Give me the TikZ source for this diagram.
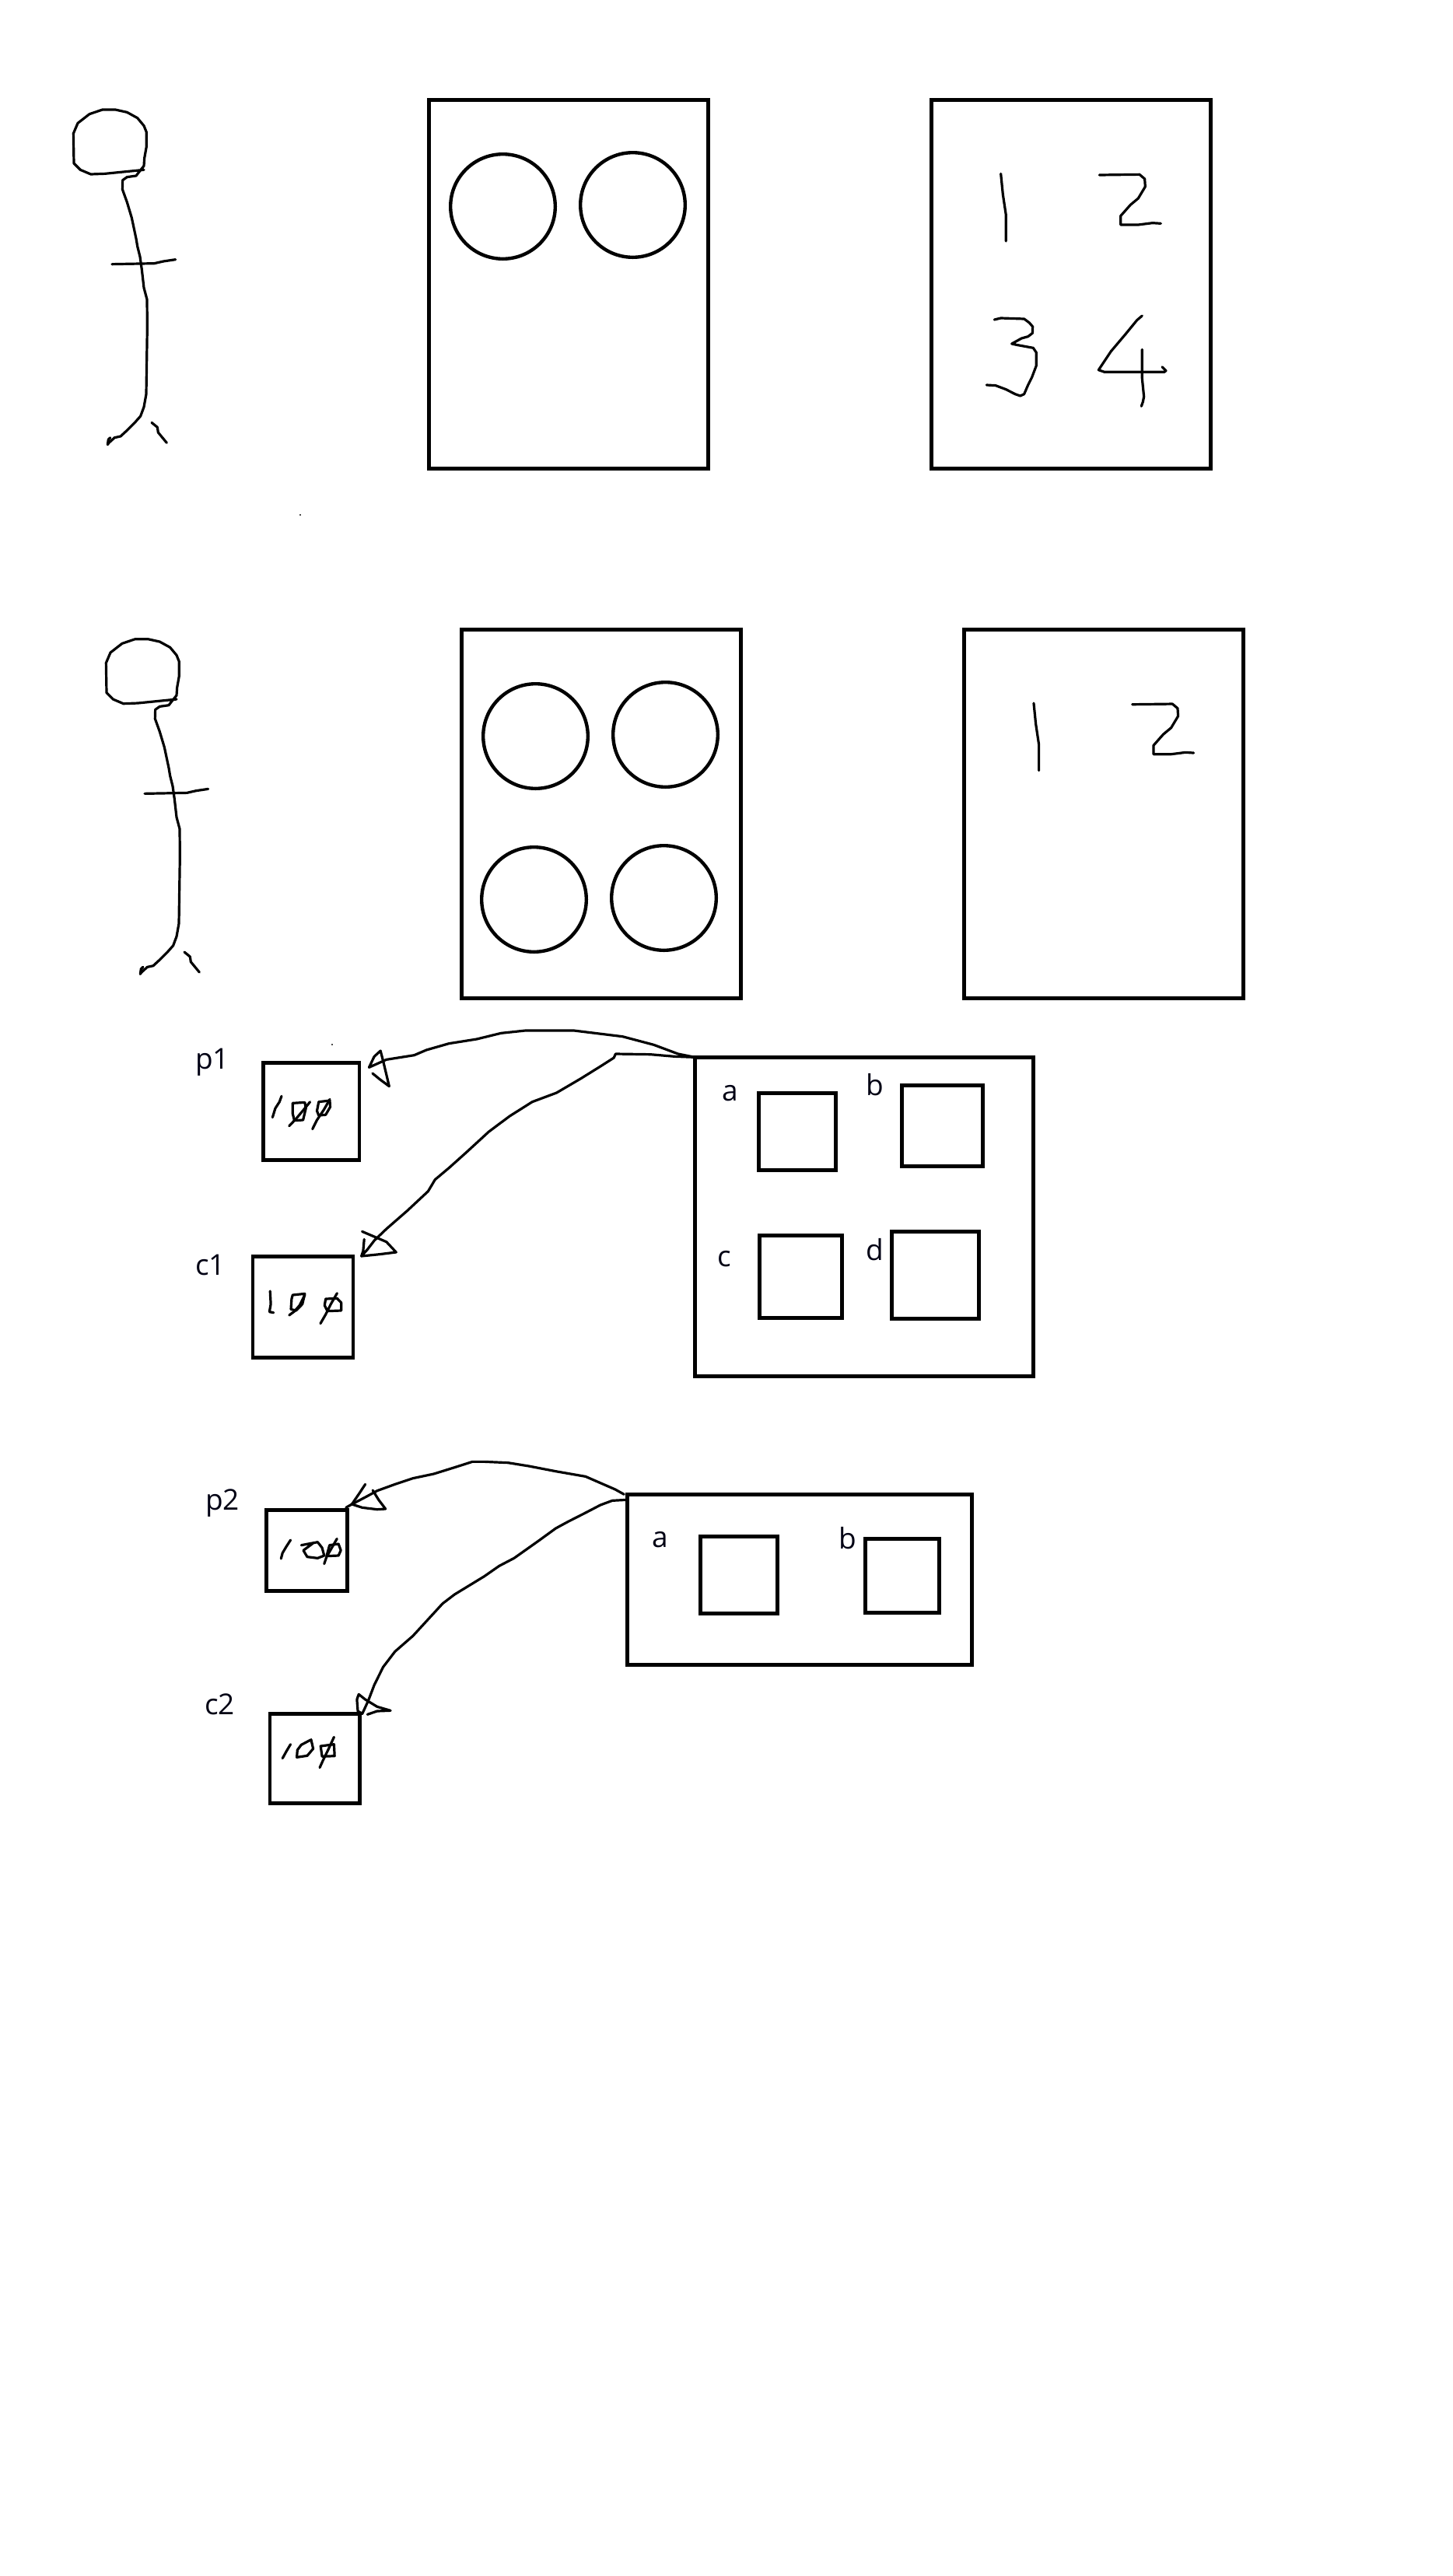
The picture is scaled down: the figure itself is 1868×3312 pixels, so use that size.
\documentclass[tikz,border=0pt]{standalone}
\usepackage{fontspec}
\setmainfont{Open Sans}
\tikzset{
  x=1pt,y=-1pt,
  bx/.style={draw=black,line width=4.7pt,inner sep=0pt,outer sep=0pt},
  circ/.style={draw=black,circle,line width=4.4pt,minimum size=134.6pt,inner sep=0pt,outer sep=0pt},
  pen/.style={draw=black,line width=3.2pt,line cap=round,line join=round},
  lbl/.style={anchor=base west,inner sep=0pt,font=\fontsize{37}{40}\selectfont,text=black!92!blue},
  speck/.style={fill=black!70,draw=none},
  zoomA/.style={shift={(#1)},x=0.33333pt,y=-0.33333pt},
}
\newcommand{\rbox}[5]{%
  \pgfmathsetmacro\bxw{#4-#2}\pgfmathsetmacro\bxh{#5-#3}%
  \node[bx,minimum width=\bxw pt,minimum height=\bxh pt] (#1) at ({(#2+#4)/2},{(#3+#5)/2}) {};}
\newcommand{\stickman}{%
  \draw[pen] (375,355)--(225,370)--(170,372)--(130,355)--(105,330)--(103,215)--(120,175)--(165,140)--(215,123)--(265,123)--(310,133)--(350,155)--(375,185)--(385,210)--(385,265)--(377,310)--(375,340)--(355,365)--(345,378)--(310,383)--(293,395)--(292,430)--(310,480)--(328,540)--(345,620)--(350,650)--(360,690)--(367,740)--(375,810)--(387,855)--(388,960)--(384,1220)--(375,1270)--(362,1305)--(340,1330)--(310,1360)--(285,1383)--(262,1388)--(240,1408)--(235,1415)--(238,1395)--(245,1388);
  \draw[pen] (252,719)--(415,716)--(450,708)--(497,701);
  \draw[pen] (405,1330)--(427,1348)--(430,1368)--(463,1408);}
\newcommand{\onetwo}{%
  \draw[pen] (320,340)--(328,420)--(340,500)--(340,600);
  \draw[pen] (700,345)--(855,343)--(875,360)--(877,390)--(850,435)--(820,460)--(782,503)--(782,537)--(850,537)--(905,530)--(937,532);}
\begin{document}
\begin{tikzpicture}
\path[use as bounding box,fill=white] (0,0) rectangle (1868,3312);

% --- first row
\begin{scope}[zoomA={60,100}]\stickman\end{scope}
\rbox{mA}{551.3}{128.3}{910.7}{602.3}
\node[circ] (mA1) at (646.5,265.5) {};
\node[circ] (mA2) at (813.5,263.5) {};
\rbox{nA}{1197.3}{128.3}{1556.7}{602.3}
\begin{scope}[zoomA={1180,110}]
  \onetwo
  \draw[pen] (295,903)--(320,897)--(410,900)--(430,915)--(443,930)--(442,955)--(425,968)--(400,975)--(362,996)--(380,1000)--(445,1012)--(457,1030)--(457,1080)--(440,1125)--(425,1155)--(410,1190)--(395,1197)--(375,1190)--(340,1172)--(300,1157)--(265,1155);
  \draw[pen] (865,888)--(845,905)--(800,960)--(745,1025)--(715,1070)--(697,1097)--(720,1105)--(950,1105)--(957,1100)--(942,1085);
  \draw[pen] (865,1018)--(865,1130)--(872,1200)--(868,1220)--(862,1237);
\end{scope}
\fill[speck] (384.5,661) rectangle (386.5,663);

% --- second row
\begin{scope}[zoomA={102,780.7}]\stickman\end{scope}
\rbox{mB}{593.3}{809.3}{952.7}{1283.7}
\node[circ] (mB1) at (688.5,946.5) {};
\node[circ] (mB2) at (855.5,944.5) {};
\node[circ] (mB3) at (686.5,1156.5) {};
\node[circ] (mB4) at (853.5,1154.5) {};
\rbox{nB}{1239.3}{809.3}{1598.7}{1283.7}
\begin{scope}[zoomA={1222.3,790.7}]\onetwo\end{scope}

% --- third row
\rbox{qA}{893.3}{1359.3}{1328.7}{1769.7}
\rbox{qAa}{975.3}{1405.3}{1074.7}{1504.7}
\rbox{qAb}{1159.3}{1395.3}{1263.7}{1499.7}
\rbox{qAc}{976.3}{1588.3}{1082.7}{1694.7}
\rbox{qAd}{1146.3}{1583.3}{1258.7}{1695.7}
\node[lbl] (la) at (928,1415) {a};
\node[lbl] (lb) at (1113,1408.5) {b};
\node[lbl] (lc) at (922,1628) {c};
\node[lbl] (ld) at (1113,1620) {d};
\rbox{pA}{338.3}{1366.3}{462}{1491.7}
\rbox{cA}{324.9}{1615.3}{453.9}{1745.7}
\node[lbl] (lpA) at (251,1374.7) {p1};
\node[lbl] (lcA) at (251,1639.3) {c1};
\fill[speck] (426,1342) rectangle (428,1343.5);
\begin{scope}[shift={(220,1300)},x=0.44643pt,y=-0.33333pt]
  \coordinate (tipP) at (570,217);
  \coordinate (tipC) at (548,945);
  \draw[pen] (qA.north west)--(1460,165)--(1390,130)--(1300,98)--(1160,75)--(1020,75)--(950,85)--(880,108)--(800,125)--(735,150)--(700,170)--(620,187)--(tipP)--(585,175)--(603,153)--(612,200)--(620,245)--(628,290)--(600,262)--(580,240);
  \draw[pen] (qA.north west)--(1450,175)--(1380,167)--(1280,165)--(1275,180)--(1240,210)--(1180,260)--(1110,315)--(1040,350)--(975,405)--(915,465)--(850,545)--(800,605)--(760,650)--(740,695)--(680,770)--(620,840)--(585,885)--(565,920)--(tipC)--(553,925)--(556,880);
  \draw[pen] (tipC)--(600,938)--(648,930)--(620,890)--(585,870)--(550,850);
  % 100 in p1
  \draw[pen] (318,328)--(312,350)--(300,375)--(292,410);
  \draw[pen] (350,355)--(385,352)--(388,375)--(380,420)--(355,422)--(350,395)--cycle;
  \draw[pen] (400,350)--(385,375)--(360,415)--(340,443);
  \draw[pen] (425,350)--(457,345)--(458,370)--(445,400)--(425,402)--(420,385)--cycle;
  \draw[pen] (457,340)--(440,380)--(420,420)--(407,455);
  % 100 in c1
  \draw[pen] (285,1080)--(287,1130)--(283,1160)--(295,1163);
  \draw[pen] (350,1095)--(385,1090)--(378,1130)--(360,1155)--(345,1150)--(347,1110)--cycle;
  \draw[pen] (385,1095)--(370,1135)--(355,1158)--(340,1173);
  \draw[pen] (445,1110)--(478,1108)--(490,1125)--(490,1155)--(450,1157)--(442,1135)--cycle;
  \draw[pen] (478,1088)--(460,1130)--(445,1170)--(430,1205);
\end{scope}

% --- fourth row
\rbox{qB}{806.3}{1921.3}{1249.7}{2140.7}
\rbox{qBa}{900.3}{1975.3}{999.7}{2074.7}
\rbox{qBb}{1112.3}{1978.3}{1207.7}{2073.7}
\node[lbl] (lBa) at (838,1989.3) {a};
\node[lbl] (lBb) at (1078,1991) {b};
\rbox{pB}{342.6}{1941.3}{446.3}{2045.7}
\rbox{cB}{347.1}{2203.3}{462.3}{2318.7}
\node[lbl] (lpB) at (264,1941.3) {p2};
\node[lbl] (lcB) at (263,2204.7) {c2};
\begin{scope}[shift={(240,1860)},x=0.38265pt,y=-0.33333pt]
  \coordinate (tipPB) at (555,222);
  \coordinate (tipCB) at (590,1030);
  \draw[pen] ([xshift=-4pt]qB.north west)--(1440,165)--(1400,145)--(1340,115)--(1240,95)--(1150,75)--(1080,62)--(1000,58)--(960,58)--(900,80)--(830,105)--(760,122)--(700,145)--(640,170)--(600,195)--(tipPB)--(590,235)--(640,242)--(668,240)--(645,205)--(625,168);
  \draw[pen] (600,145)--(580,180)--(tipPB)--(535,235);
  \draw[pen] ([yshift=-7pt]qB.north west)--(1430,208)--(1390,225)--(1340,255)--(1280,290)--(1240,315)--(1180,365)--(1100,430)--(1050,460)--(1000,500)--(900,570)--(860,605)--(800,680)--(760,730)--(700,790)--(660,850)--(630,920)--(610,980)--(tipCB)--(575,1020)--(572,975)--(578,955)--(600,975)--(640,1003)--(685,1018)--(640,1020)--(607,1033);
  % 100 in p2
  \draw[pen] (349,360)--(335,385)--(322,410)--(317,432);
  \draw[pen] (385,380)--(440,368)--(455,390)--(462,420)--(440,430)--(405,425)--(392,400)--(425,372);
  \draw[pen] (480,380)--(510,375)--(518,400)--(510,420)--(470,422)--cycle;
  \draw[pen] (505,355)--(490,385)--(470,425)--(462,452);
  % 100 in c2
  \draw[pen] (349,1148)--(335,1175)--(322,1202);
  \draw[pen] (385,1150)--(418,1130)--(425,1165)--(405,1192)--(370,1198)--(372,1170)--cycle;
  \draw[pen] (450,1155)--(495,1148)--(497,1193)--(455,1195)--cycle;
  \draw[pen] (495,1120)--(475,1170)--(458,1210)--(447,1238);
\end{scope}
\end{tikzpicture}
\end{document}
